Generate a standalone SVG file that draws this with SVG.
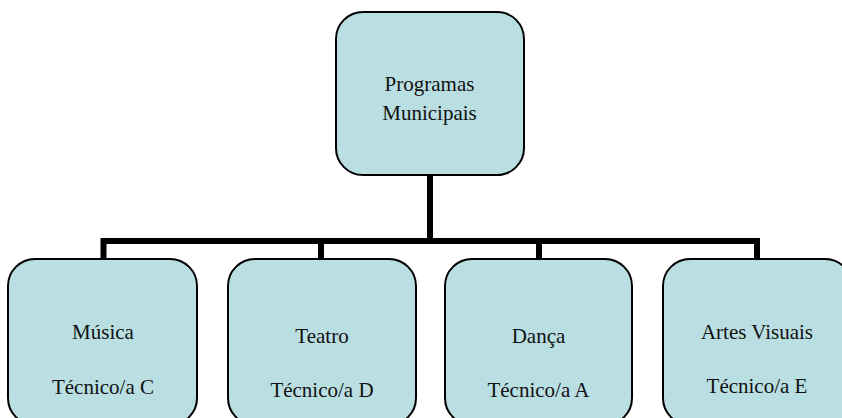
<svg xmlns="http://www.w3.org/2000/svg" width="842" height="418" viewBox="0 0 842 418">
  <style>
    .box { fill: #badfe2; stroke: #000; stroke-width: 2; }
    .lbl { font-family: "Liberation Serif", "Times New Roman", "DejaVu Serif", serif; font-size: 21px; fill: #111; text-anchor: middle; }
    .wire { fill: none; stroke: #000; stroke-width: 6; stroke-linecap: butt; stroke-linejoin: miter; }
  </style>
  <rect width="842" height="418" fill="#fff"/>

  <!-- tree connectors -->
  <g id="connectors">
    <path class="wire" d="M430 175 V241"/>
    <path class="wire" d="M103.5 259 V241 H757 V259"/>
    <path class="wire" d="M321 241 V259"/>
    <path class="wire" d="M539 241 V259"/>
  </g>

  <g id="root">
    <rect class="box" x="336" y="12" width="188" height="163" rx="27" ry="27"/>
    <text class="lbl" x="429.5" y="91">Programas</text>
    <text class="lbl" x="429.5" y="120">Municipais</text>
  </g>

  <g id="musica">
    <rect class="box" x="8" y="259" width="189" height="166" rx="27" ry="27"/>
    <text class="lbl" x="103" y="339">Música</text>
    <text class="lbl" x="103" y="394">Técnico/a C</text>
  </g>

  <g id="teatro">
    <rect class="box" x="228" y="259" width="188" height="166" rx="27" ry="27"/>
    <text class="lbl" x="322" y="343">Teatro</text>
    <text class="lbl" x="322" y="397">Técnico/a D</text>
  </g>

  <g id="danca">
    <rect class="box" x="445" y="259" width="187" height="166" rx="27" ry="27"/>
    <text class="lbl" x="538.5" y="343">Dança</text>
    <text class="lbl" x="538.5" y="397">Técnico/a A</text>
  </g>

  <g id="artes">
    <rect class="box" x="663" y="259" width="189" height="166" rx="27" ry="27"/>
    <text class="lbl" x="757" y="339">Artes Visuais</text>
    <text class="lbl" x="757" y="393">Técnico/a E</text>
  </g>
</svg>
